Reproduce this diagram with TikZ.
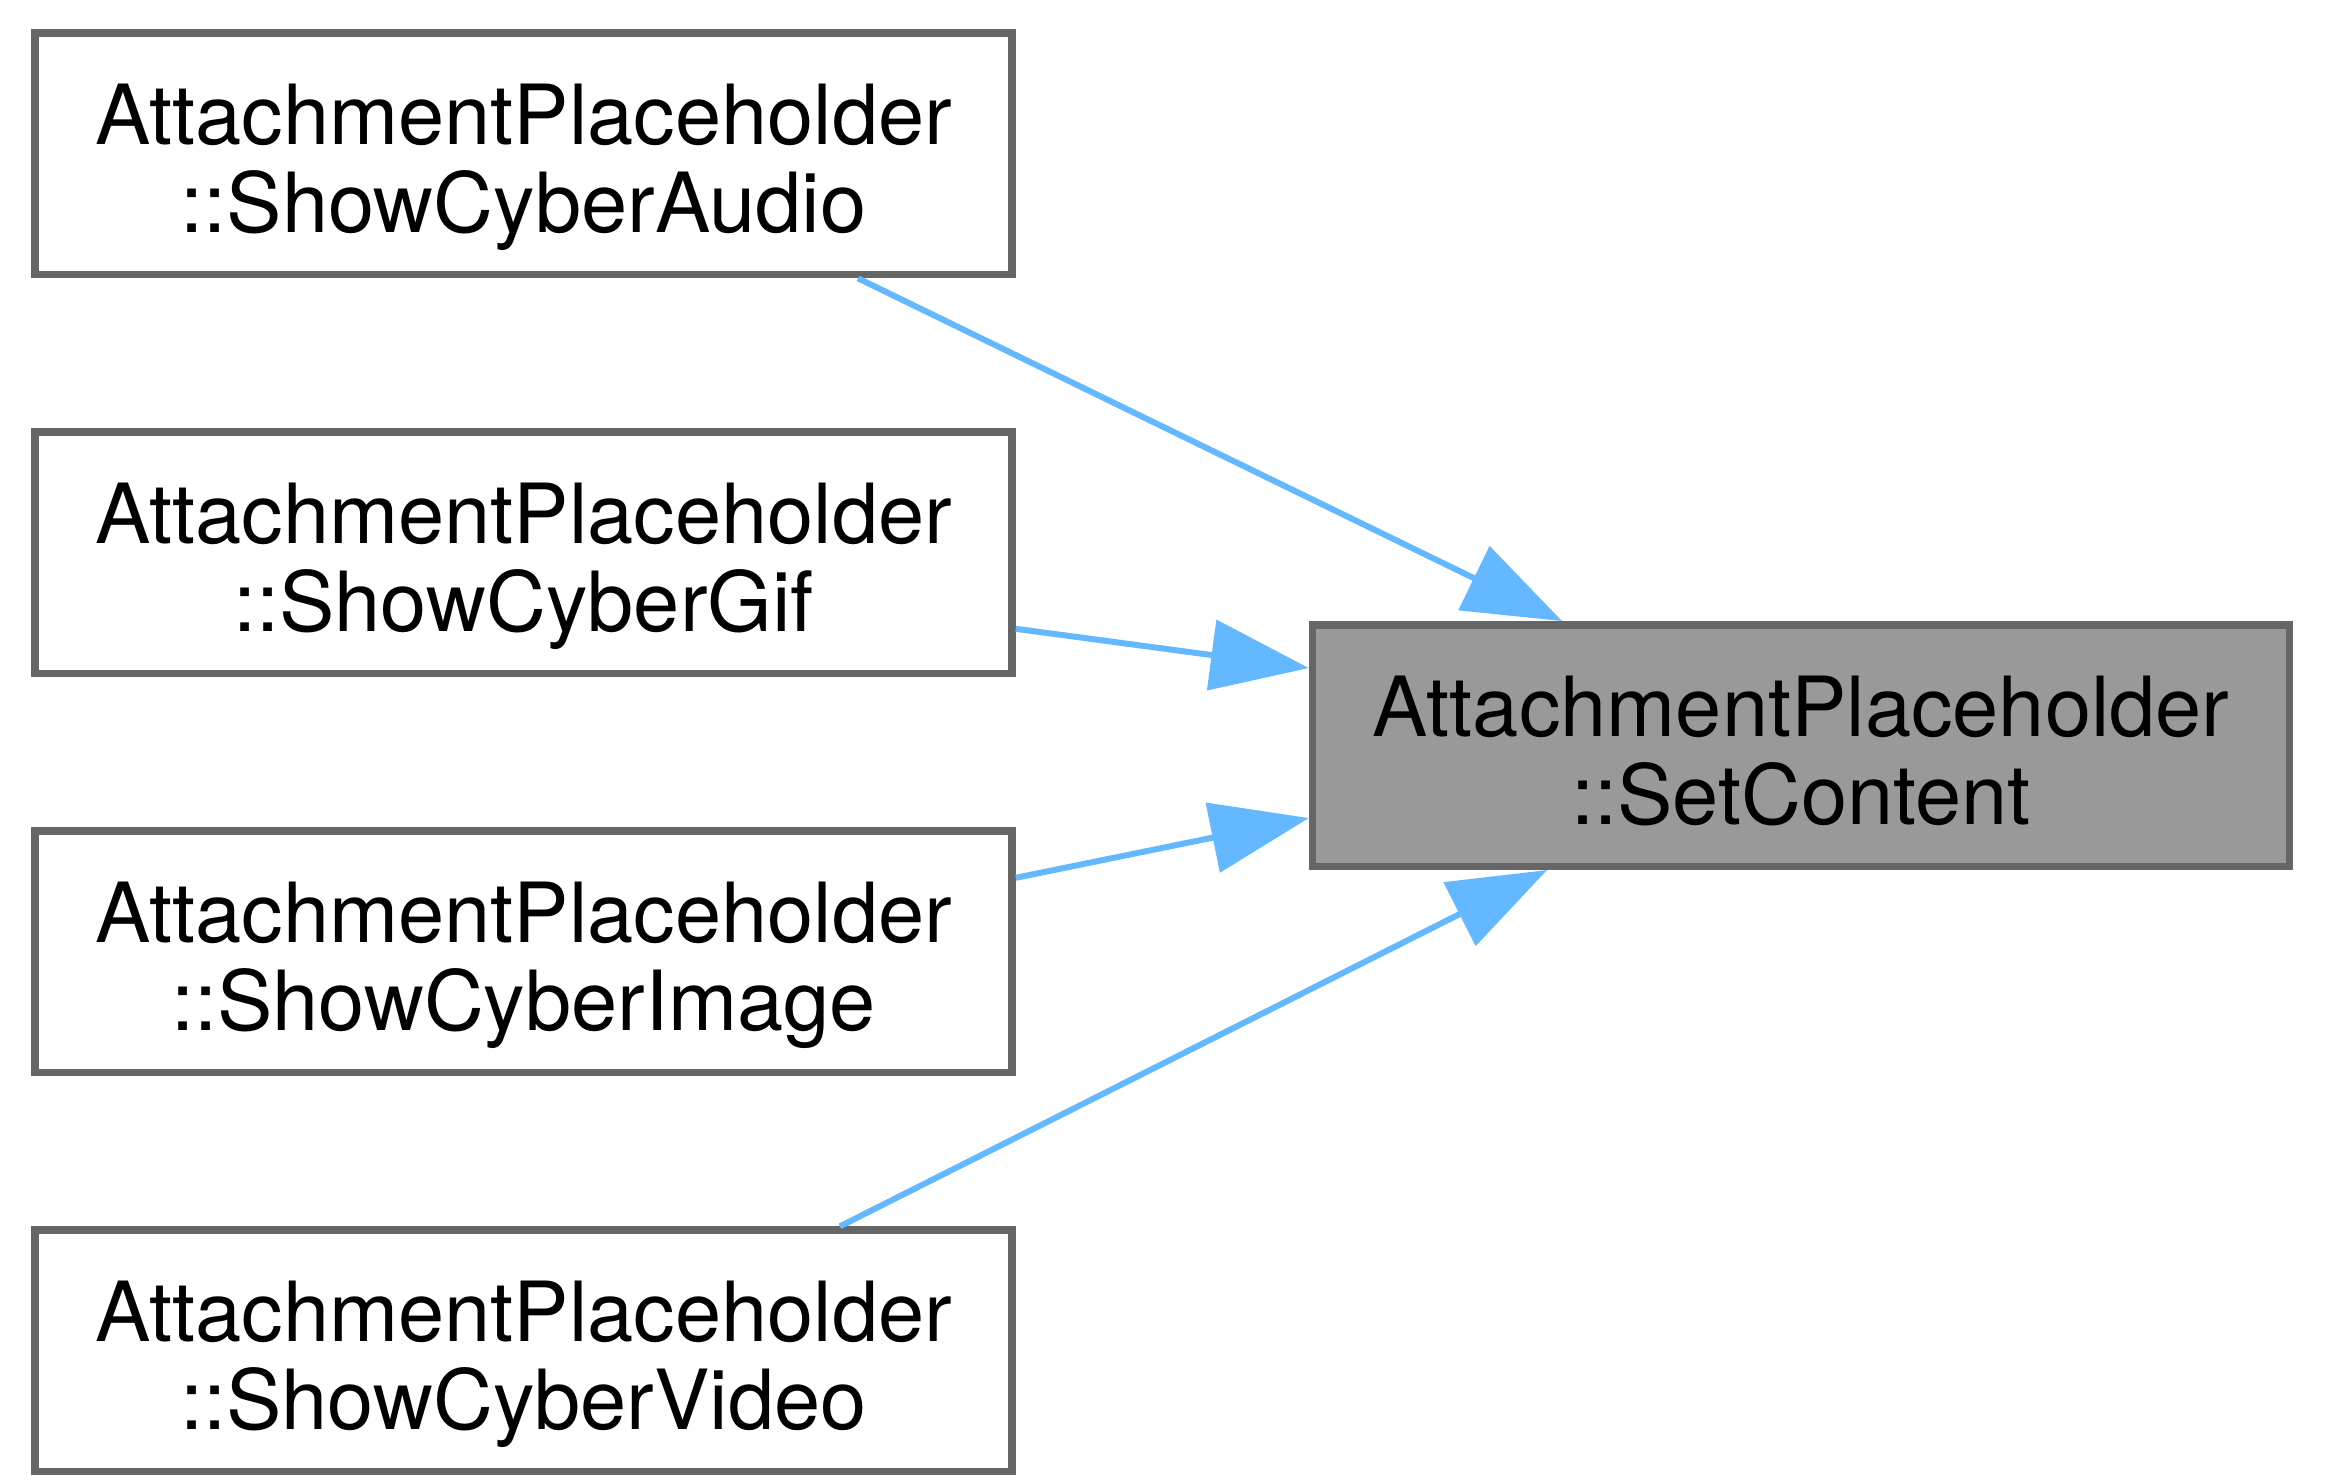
\documentclass[tikz,border=0pt]{standalone}
\usepackage{fontspec}
\setmainfont{TeX Gyre Heros}
\definecolor{boxgrey}{RGB}{102, 102, 102}
\definecolor{mainfill}{RGB}{153, 153, 153}
\definecolor{callblue}{RGB}{99, 184, 255}
\usetikzlibrary{arrows.meta, positioning}
% two-line label with fixed top and bottom struts
\newcommand{\fnlabel}[2]{\rule{0pt}{8.8pt}#1\\#2\rule[-1.8pt]{0pt}{1.8pt}}

\begin{document}
\begin{tikzpicture}[
    fnbox/.style={draw=boxgrey, line width=0.75pt, fill=white, rectangle,
      minimum width=97.7pt, minimum height=24.15pt, inner sep=0pt,
      align=center, font=\fontsize{8.3}{8.8}\selectfont},
    call/.style={draw=callblue, line width=0.6pt,
      -{Triangle[length=9.8pt, width=7pt]}, fill=callblue},
    node distance=15pt
  ]
  \path[use as bounding box] (0,0) rectangle (232.5pt,-148.3pt);

  % callers
  \node[fnbox] (audio) at (52.35pt,-15.375pt) {\fnlabel{AttachmentPlaceholder}{::ShowCyberAudio}};
  \node[fnbox, below=of audio] (gif) {\fnlabel{AttachmentPlaceholder}{::ShowCyberGif}};
  \node[fnbox, below=of gif] (image) {\fnlabel{AttachmentPlaceholder}{::ShowCyberImage}};
  \node[fnbox, below=of image] (video) {\fnlabel{AttachmentPlaceholder}{::ShowCyberVideo}};

  % called function
  \node[fnbox, fill=mainfill] (setcontent) at (180.1pt,-74.55pt) {\fnlabel{AttachmentPlaceholder}{::SetContent}};

  \draw[call] ([xshift=33.45pt]audio.south) -- ([xshift=-23.9pt]setcontent.north);
  \draw[call] ([yshift=-7.6pt]gif.east) -- ([yshift=7.75pt]setcontent.west);
  \draw[call] ([yshift=7.4pt]image.east) -- ([yshift=-7.25pt]setcontent.west);
  \draw[call] ([xshift=31.65pt]video.north) -- ([xshift=-25.4pt]setcontent.south);
\end{tikzpicture}
\end{document}
